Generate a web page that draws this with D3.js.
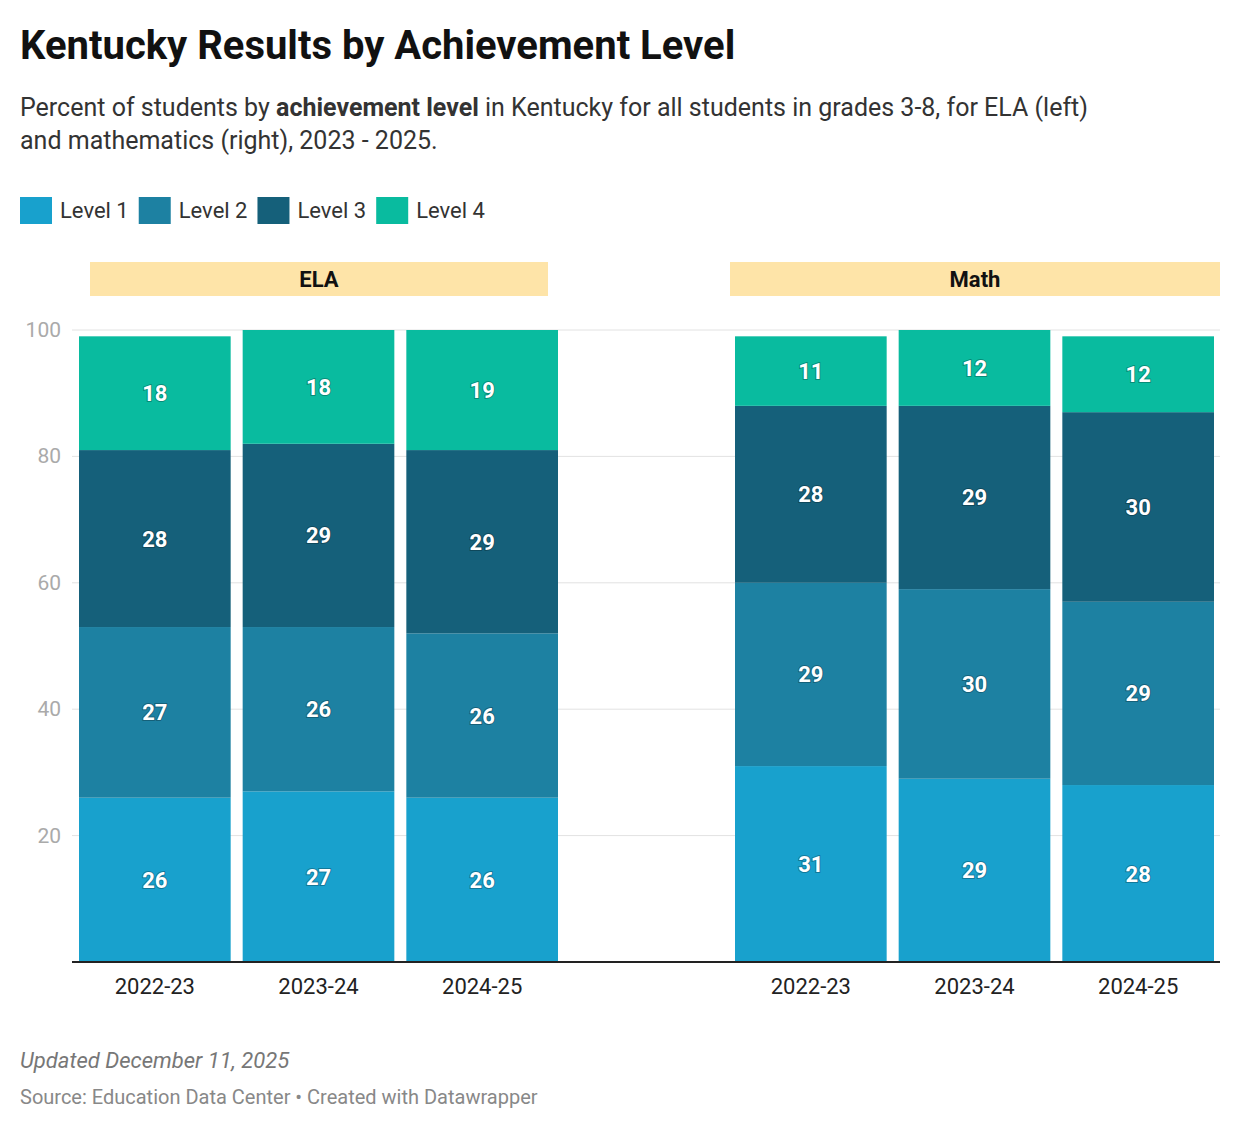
<!DOCTYPE html>
<html><head><meta charset="utf-8">
<script src="https://cdn.jsdelivr.net/npm/d3@7"></script>
<style>body{margin:0;background:#fff;font-family:Roboto,sans-serif}</style>
</head><body>
<svg id="c" width="1240" height="1130"></svg>
<script>
const years = ["2022-23","2023-24","2024-25"];
const levels = ["Level 1","Level 2","Level 3","Level 4"];
const colors = ["#18a1cd","#1d81a2","#15607a","#09bb9f"];
const elaL1=[26,27,26], elaL2=[27,26,26], elaL3=[28,29,29], elaL4=[18,18,19];
const mathL1=[31,29,28], mathL2=[29,30,29], mathL3=[28,29,30], mathL4=[11,12,12];
const yTicks=[20,40,60,80,100];
const panels=[{name:"ELA",data:[elaL1,elaL2,elaL3,elaL4],x0:79,x1:558,hx0:90,hx1:548},
              {name:"Math",data:[mathL1,mathL2,mathL3,mathL4],x0:735,x1:1214,hx0:730,hx1:1220}];
const svg=d3.select("#c");
svg.append("text").attr("x",20).attr("y",59).attr("font-size",40).attr("font-weight",700).attr("fill","#111").text("Kentucky Results by Achievement Level");
const st=svg.append("text").attr("x",20).attr("y",116).attr("font-size",25).attr("fill","#333");
st.append("tspan").text("Percent of students by ");
st.append("tspan").attr("font-weight",700).text("achievement level");
st.append("tspan").text(" in Kentucky for all students in grades 3-8, for ELA (left)");
svg.append("text").attr("x",20).attr("y",149).attr("font-size",25).attr("fill","#333").text("and mathematics (right), 2023 - 2025.");
// legend
let lx=20;
levels.forEach((l,i)=>{
  svg.append("rect").attr("x",lx).attr("y",197).attr("width",32).attr("height",27).attr("fill",colors[i]);
  const t=svg.append("text").attr("x",lx+40).attr("y",218).attr("font-size",22).attr("fill","#333").text(l);
  lx+=40+t.node().getComputedTextLength()+10;
});
const y=d3.scaleLinear().domain([0,100]).range([962,330]);
const g=svg.append("g");
yTicks.forEach(v=>{
  g.append("line").attr("x1",72).attr("x2",1220).attr("y1",y(v)).attr("y2",y(v)).attr("stroke","#e2e2e2");
  g.append("text").attr("x",61).attr("y",y(v)+7).attr("text-anchor","end").attr("font-size",21).attr("fill","#aaa").text(v);
});
panels.forEach(p=>{
  svg.append("rect").attr("x",p.hx0).attr("y",262).attr("width",p.hx1-p.hx0).attr("height",34).attr("fill","#fee4a8");
  svg.append("text").attr("x",(p.hx0+p.hx1)/2).attr("y",287).attr("text-anchor","middle").attr("font-size",22).attr("font-weight",700).attr("fill","#111").text(p.name);
  const x=d3.scaleBand().domain(years).range([p.x0,p.x1+12]).paddingInner(12/164).paddingOuter(0);
  const bw=(p.x1-p.x0-24)/3;
  years.forEach((yr,j)=>{
    let cum=0;
    p.data.forEach((s,i)=>{
      const v=s[j], b=cum, t=cum+v; cum=t;
      const bx=p.x0+j*(bw+12);
      svg.append("rect").attr("x",bx).attr("y",y(t)).attr("width",bw).attr("height",y(b)-y(t)).attr("fill",colors[i]);
      svg.append("text").attr("x",bx+bw/2).attr("y",(y(t)+y(b))/2+8).attr("text-anchor","middle").attr("font-size",22).attr("font-weight",700).attr("fill","#fff")
        .style("paint-order","stroke").attr("stroke","rgba(0,0,0,0.25)").attr("stroke-width",2).text(v);
    });
    svg.append("text").attr("x",p.x0+j*(bw+12)+bw/2).attr("y",994).attr("text-anchor","middle").attr("font-size",22).attr("fill","#222").text(yr);
  });
});
svg.append("line").attr("x1",72).attr("x2",1220).attr("y1",962).attr("y2",962).attr("stroke","#222").attr("stroke-width",2);
svg.append("text").attr("x",20).attr("y",1068).attr("font-size",22).attr("font-style","italic").attr("fill","#777").text("Updated December 11, 2025");
svg.append("text").attr("x",20).attr("y",1104).attr("font-size",20).attr("fill","#888").text("Source: Education Data Center • Created with Datawrapper");
</script>
</body></html>
